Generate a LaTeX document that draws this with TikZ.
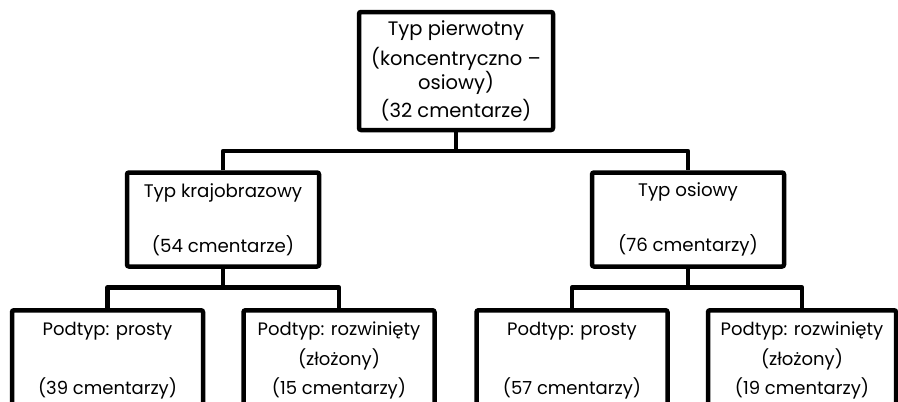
\documentclass[tikz,border=0pt]{standalone}
\usepackage{fontspec}
\setmainfont{Poppins}
\usetikzlibrary{positioning,calc}
\tikzset{
  typ/box/.style={draw, rectangle, rounded corners=2pt, line width=4.5pt, align=center, inner sep=0pt},
  typ/root/.style={typ/box, minimum width=194pt, minimum height=118pt, font=\fontsize{19.5}{23}\selectfont},
  typ/main/.style={typ/box, minimum width=192pt, minimum height=94pt, font=\fontsize{18.2}{27.5}\selectfont},
  typ/sub/.style={typ/box, anchor=north, minimum width=191pt, minimum height=101pt, font=\fontsize{18}{29.5}\selectfont},
  typ/link/.style={line width=4.5pt, line join=round}
}

\begin{document}
\begin{tikzpicture}[x=1pt, y=-1pt]
  \useasboundingbox (0,0) rectangle (898,402);

  % typ pierwotny i dwa typy glowne
  \node[typ/root] (pierwotny) at (456,71) {Typ pierwotny\\[6pt](koncentryczno –\\osiowy)\\[4pt](32 cmentarze)};
  \node[typ/main] (krajobraz) at (223,219.5) {Typ krajobrazowy\\[27.5pt](54 cmentarze)};
  \node[typ/main] (osiowy) at (688,219.5) {Typ osiowy\\[27.5pt](76 cmentarzy)};

  % podtypy
  \node[typ/sub] (kprosty) at (107.5,308) {Podtyp: prosty\\[29.5pt](39 cmentarzy)};
  \node[typ/sub] (kzlozony) at (339,308) {Podtyp: rozwinięty\\(złożony)\\(15 cmentarzy)};
  \node[typ/sub] (oprosty) at (572,308) {Podtyp: prosty\\[29.5pt](57 cmentarzy)};
  \node[typ/sub, minimum width=188pt] (ozlozony) at (802,308) {Podtyp: rozwinięty\\(złożony)\\(19 cmentarzy)};

  \coordinate (bus0) at (0,151);
  \coordinate (bus1) at (0,287.5);

  \draw[typ/link] (pierwotny.south) -- (pierwotny.south |- bus0);
  \draw[typ/link] (krajobraz.north) |- (osiowy.north |- bus0) -- (osiowy.north);

  \draw[typ/link] (krajobraz.south) -- (krajobraz.south |- bus1);
  \draw[typ/link] (kprosty.north) |- (kzlozony.north |- bus1) -- (kzlozony.north);

  \draw[typ/link] (osiowy.south) -- (osiowy.south |- bus1);
  \draw[typ/link] (oprosty.north) |- (ozlozony.north |- bus1) -- (ozlozony.north);
\end{tikzpicture}
\end{document}
